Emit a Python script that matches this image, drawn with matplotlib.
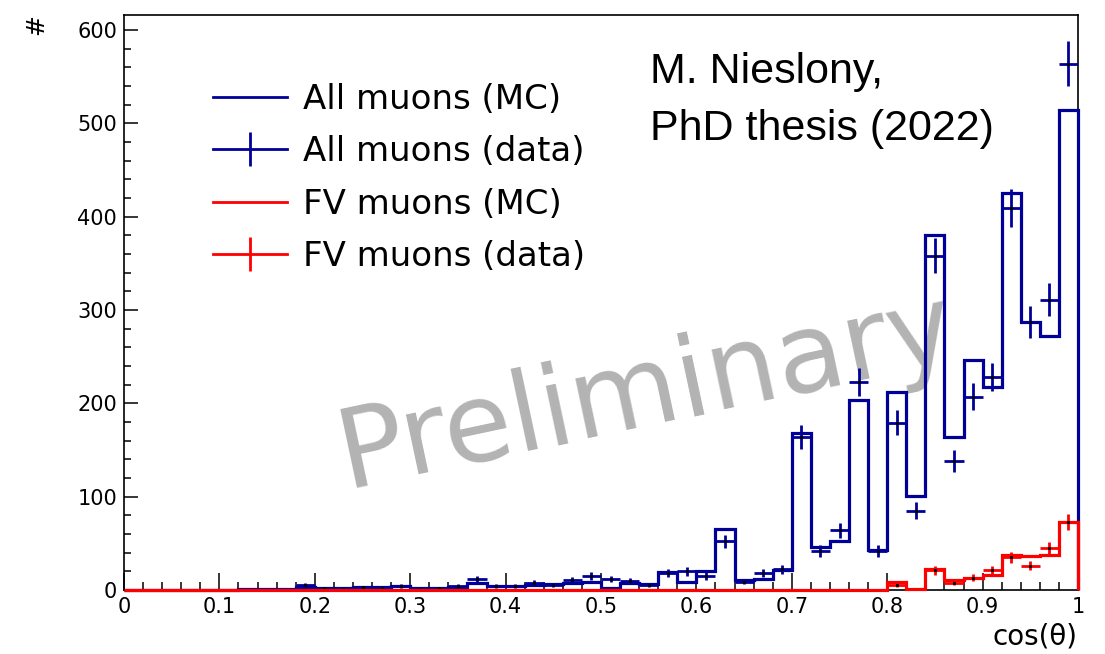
import numpy as np
import matplotlib
matplotlib.use("Agg")
import matplotlib.pyplot as plt
from matplotlib.lines import Line2D
from matplotlib.ticker import MultipleLocator, FuncFormatter

BLUE = "#000099"
RED = "#ff0000"
GRAY = "#b3b3b3"

# 50 bins in cos(theta) from 0 to 1
n_bins = 50
x_min, x_max = 0.0, 1.0

all_mc = [0, 0, 0, 0, 0, 0, 1, 1, 1, 3,
          2, 2, 3, 3, 4, 2, 2, 3, 7, 4,
          4, 5, 6, 8, 9, 2, 8, 6, 19, 9,
          20, 65, 11, 12, 21, 168, 46, 53, 204, 43,
          212, 101, 380, 164, 246, 218, 425, 287, 272, 514]
all_data = [0, 0, 0, 0, 0, 0, 0, 0, 0, 5,
            2, 1, 3, 2, 4, 1, 2, 4, 12, 4,
            4, 8, 5, 11, 15, 12, 10, 5, 18, 20,
            15, 52, 9, 18, 22, 164, 42, 64, 223, 42,
            179, 85, 358, 138, 207, 228, 409, 287, 311, 564]
fv_mc = [0, 0, 0, 0, 0, 0, 0, 0, 0, 0,
         0, 0, 0, 0, 0, 0, 0, 0, 0, 0,
         0, 0, 0, 0, 0, 0, 0, 0, 0, 0,
         0, 0, 0, 0, 0, 0, 0, 0, 0, 0,
         9, 1, 22, 11, 13, 16, 38, 36, 37, 73]
fv_data = [0, 0, 0, 0, 0, 0, 0, 0, 0, 0,
           0, 0, 0, 0, 0, 0, 0, 0, 0, 0,
           0, 0, 0, 0, 0, 0, 0, 0, 0, 0,
           0, 0, 0, 0, 0, 0, 0, 0, 0, 0,
           5, 0, 21, 8, 13, 21, 35, 26, 45, 73]
labels = ["All muons (MC)", "All muons (data)", "FV muons (MC)", "FV muons (data)"]

edges = np.linspace(x_min, x_max, n_bins + 1)
centers = 0.5 * (edges[:-1] + edges[1:])
half = 0.5 * (edges[1] - edges[0])

W, H = 1105, 654
fig = plt.figure(figsize=(W / 100, H / 100), dpi=100)
ax = fig.add_axes([124 / W, 64 / H, 954 / W, 575 / H])
ax.set_xlim(x_min, x_max)
ax.set_ylim(0, 616)

LW = 2.3


def draw_data(values, color, z):
    v = np.asarray(values, dtype=float)
    m = v > 0
    ax.errorbar(centers[m], v[m], xerr=half, yerr=np.sqrt(v[m]), fmt="none",
                ecolor=color, elinewidth=2.0, capsize=0, zorder=z)
    ax.plot(centers[m], v[m], ls="none", marker="s", ms=1.2, color="black",
            zorder=z + 0.1)


# histograms sit on top of the frame, like ROOT draws them
ax.stairs(all_mc, edges, baseline=0, color=BLUE, lw=LW, zorder=3, clip_on=False)
draw_data(all_data, BLUE, 4)
ax.stairs(fv_mc, edges, baseline=0, color=RED, lw=LW, zorder=5, clip_on=False)
draw_data(fv_data, RED, 6)

# watermark under the histograms
ax.text(0.554, 0.292, "Preliminary", transform=ax.transAxes, rotation=12,
        rotation_mode="anchor", ha="center", va="baseline", fontsize=80,
        color=GRAY, family="DejaVu Sans", zorder=1)

ax.text(0.551, 0.882, "M. Nieslony,", transform=ax.transAxes, fontsize=31,
        family="Liberation Sans", va="baseline", ha="left")
ax.text(0.551, 0.783, "PhD thesis (2022)", transform=ax.transAxes, fontsize=31,
        family="Liberation Sans", va="baseline", ha="left")

# axes styling, ROOT-like
for s in ax.spines.values():
    s.set_linewidth(1.2)
ax.xaxis.set_major_locator(MultipleLocator(0.1))
ax.xaxis.set_minor_locator(MultipleLocator(0.02))
ax.yaxis.set_major_locator(MultipleLocator(100))
ax.yaxis.set_minor_locator(MultipleLocator(20))
ax.xaxis.set_major_formatter(FuncFormatter(lambda v, p: f"{v:g}"))
ax.tick_params(axis="x", which="major", direction="in", length=12, width=1.1,
               top=False, labelsize=15, pad=5)
ax.tick_params(axis="x", which="minor", direction="in", length=6, width=1.1, top=False)
ax.tick_params(axis="y", which="major", direction="in", length=10, width=1.1,
               right=False, labelsize=15, pad=5)
ax.tick_params(axis="y", which="minor", direction="in", length=5, width=1.1, right=False)
for lab in ax.get_xticklabels() + ax.get_yticklabels():
    lab.set_family("DejaVu Sans")

ax.set_ylabel("#", fontsize=18, family="DejaVu Sans", rotation=90)
ax.yaxis.set_label_coords(-0.092, 0.984)
ax.yaxis.label.set_va("center")
ax.yaxis.label.set_ha("center")
ax.set_xlabel("cos(θ)", fontsize=20, family="DejaVu Sans")
ax.xaxis.set_label_coords(1.0, -0.08)
ax.xaxis.label.set_ha("right")
ax.xaxis.label.set_va("center")

handles = [
    Line2D([], [], color=BLUE, lw=2),
    (Line2D([], [], color=BLUE, lw=2),
     Line2D([], [], color=BLUE, ls="none", marker="|", ms=24, mew=2)),
    Line2D([], [], color=RED, lw=2),
    (Line2D([], [], color=RED, lw=2),
     Line2D([], [], color=RED, ls="none", marker="|", ms=24, mew=2)),
]
ax.legend(handles, labels, loc="upper left", bbox_to_anchor=(0.0933, 0.882),
          frameon=False, prop={"family": "DejaVu Sans", "size": 24.5},
          handlelength=2.18, handletextpad=0.45, labelspacing=0.57,
          borderpad=0, borderaxespad=0)

fig.savefig("out.png", dpi=100, facecolor="white")
